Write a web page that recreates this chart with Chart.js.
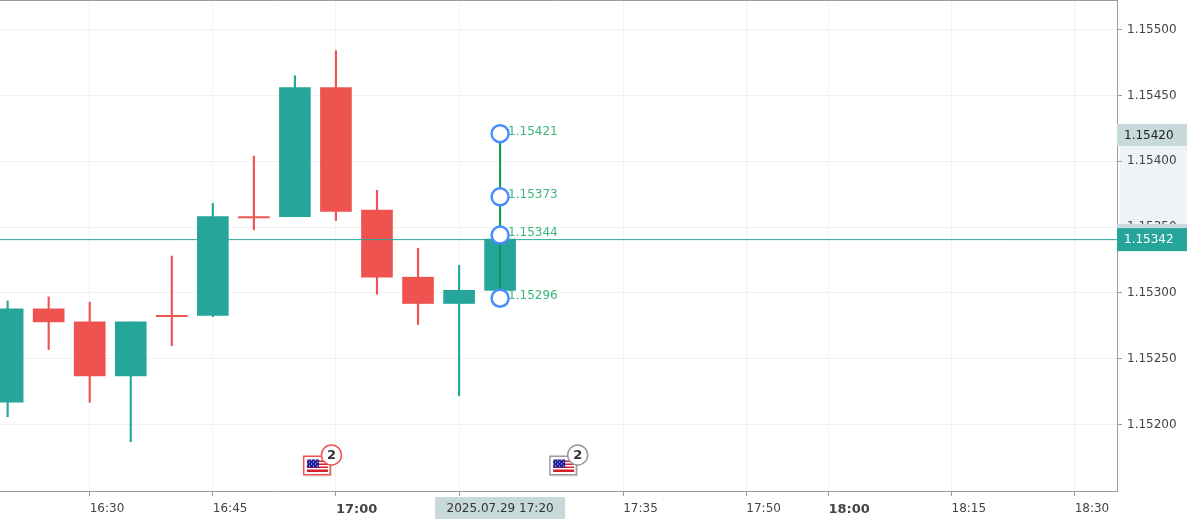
<!DOCTYPE html>
<html>
<head>
<meta charset="utf-8">
<style>
  html, body { margin: 0; padding: 0; background: #fff; }
  canvas { display: block; }
</style>
<script src="https://cdn.jsdelivr.net/npm/chart.js@4"></script>
</head>
<body>
<canvas id="candleChart" width="1187" height="522"></canvas>
<script>
const candleTimes = ['16:20', '16:25', '16:30', '16:35', '16:40', '16:45', '16:50', '16:55', '17:00', '17:05', '17:10', '17:15', '17:20'];
const openValues  = [1.15217, 1.15288, 1.15278, 1.15237, 1.15283, 1.15283, 1.15358, 1.15358, 1.15456, 1.15363, 1.15312, 1.15292, 1.15302];
const closeValues = [1.15288, 1.15278, 1.15237, 1.15278, 1.15282, 1.15358, 1.15357, 1.15456, 1.15362, 1.15312, 1.15292, 1.15302, 1.15341];
const highValues  = [1.15294, 1.15297, 1.15293, 1.15278, 1.15328, 1.15368, 1.15404, 1.15465, 1.15484, 1.15378, 1.15334, 1.15321, 1.15341];
const lowValues   = [1.15206, 1.15257, 1.15217, 1.15187, 1.15260, 1.15282, 1.15348, 1.15358, 1.15355, 1.15299, 1.15276, 1.15222, 1.15302];

const xTickLabels = ['16:30', '16:45', '17:00', '17:15', '17:35', '17:50', '18:00', '18:15', '18:30'];
const yTickValues = [1.152, 1.1525, 1.153, 1.1535, 1.154, 1.1545, 1.155];

const toolTime = '17:20';
const toolLevels = [1.15421, 1.15373, 1.15344, 1.15296];
const lastPrice = 1.153405;
const lastPriceLabel = '1.15342';
const toolBoxPrice = 1.15420;
const crosshairLabel = '2025.07.29 17:20';
const eventTimes = ['17:00', '17:30'];
const eventCounts = ['2', '2'];
const eventColors = ['#ef5350', '#9a9aa2'];

const UP = '#26a69a';
const DOWN = '#ef5350';
const PALE = '#c8d9dc';
const FONT = '"DejaVu Sans", sans-serif';

function toMinutes(t) {
    const parts = t.split(':');
    return Number(parts[0]) * 60 + Number(parts[1]);
}
function toLabel(m) {
    return String(Math.floor(m / 60)).padStart(2, '0') + ':' + String(m % 60).padStart(2, '0');
}

const candleColors = openValues.map((o, i) => closeValues[i] >= o ? UP : DOWN);
const xMin = 979.07;
const xMax = 1115.16;

function drawFlag(ctx, x, y, color) {
    ctx.fillStyle = 'rgba(0,0,0,0.12)';
    ctx.fillRect(x + 1, y + 1, 28, 20);
    ctx.fillStyle = '#fff';
    ctx.fillRect(x, y, 28, 20);
    ctx.strokeStyle = color;
    ctx.lineWidth = 1.5;
    ctx.strokeRect(x + 0.75, y + 0.75, 26.5, 18.5);
    ctx.fillStyle = '#d3202a';
    for (let i = 0; i < 4; i++) ctx.fillRect(x + 4, y + 5 + i * 3, 21, 1.5);
    ctx.fillRect(x + 4, y + 15.5, 21, 1);
    ctx.fillStyle = '#1a1a9c';
    ctx.fillRect(x + 4, y + 4, 12, 8);
    ctx.fillStyle = '#fff';
    for (let r = 0; r < 4; r++) {
        for (let c = 0; c < 6; c++) {
            if ((r + c) % 2 === 0) ctx.fillRect(x + 4 + c * 2, y + 4 + r * 2, 1, 1);
        }
    }
}

const overlays = {
    id: 'overlays',
    beforeDraw(chart) {
        const { ctx, scales } = chart;
        const top = scales.y.getPixelForValue(toolBoxPrice);
        const bottom = scales.y.getPixelForValue(toolLevels[2]);
        ctx.save();
        ctx.fillStyle = '#eef3f6';
        ctx.fillRect(chart.chartArea.right + 3, top, 70, bottom - top);
        ctx.restore();
    },
    beforeDatasetsDraw(chart) {
        const { ctx, scales, chartArea } = chart;
        const x = scales.x.getPixelForValue(toMinutes(toolTime));
        ctx.save();
        ctx.strokeStyle = '#9c9c9c';
        ctx.lineWidth = 1;
        ctx.beginPath();
        ctx.moveTo(0, 0.5);
        ctx.lineTo(chartArea.right, 0.5);
        ctx.stroke();
        ctx.fillStyle = '#3cb47c';
        ctx.font = '12px ' + FONT;
        ctx.textAlign = 'left';
        ctx.textBaseline = 'middle';
        toolLevels.forEach(v => {
            ctx.fillText(v.toFixed(5), x + 8, scales.y.getPixelForValue(v) - 2);
        });
        ctx.restore();
    },
    afterDraw(chart) {
        const { ctx, scales, chartArea } = chart;
        const right = chartArea.right;
        const yBox = (v, text, bg, fg, h) => {
            const py = scales.y.getPixelForValue(v);
            ctx.fillStyle = bg;
            ctx.fillRect(right, py - h / 2, 70, h);
            ctx.fillStyle = fg;
            ctx.fillText(text, right + 7, py + 0.5);
        };
        ctx.save();
        ctx.font = '12px ' + FONT;
        ctx.textAlign = 'left';
        ctx.textBaseline = 'middle';
        yBox(toolBoxPrice, toolBoxPrice.toFixed(5), PALE, '#222', 22);
        yBox(toolLevels[2], toolLevels[2].toFixed(5), PALE, '#222', 22);
        yBox(lastPrice, lastPriceLabel, UP, '#fff', 23);

        const cx = scales.x.getPixelForValue(toMinutes(toolTime));
        ctx.fillStyle = PALE;
        ctx.fillRect(cx - 65, chartArea.bottom + 6, 130, 22);
        ctx.fillStyle = '#333';
        ctx.textAlign = 'center';
        ctx.fillText(crosshairLabel, cx, chartArea.bottom + 17.5);

        eventTimes.forEach((t, i) => {
            const ex = scales.x.getPixelForValue(toMinutes(t));
            const flagX = ex - 33;
            drawFlag(ctx, flagX, 455.5, eventColors[i]);
            ctx.beginPath();
            ctx.arc(flagX + 28.5, 455, 10, 0, Math.PI * 2);
            ctx.fillStyle = '#fff';
            ctx.fill();
            ctx.strokeStyle = eventColors[i];
            ctx.lineWidth = 1.5;
            ctx.stroke();
            ctx.fillStyle = '#333';
            ctx.font = 'bold 13px ' + FONT;
            ctx.fillText(eventCounts[i], flagX + 28.5, 455.5);
            ctx.font = '12px ' + FONT;
        });
        ctx.restore();
    }
};

new Chart(document.getElementById('candleChart').getContext('2d'), {
    type: 'bar',
    data: {
        datasets: [
            {
                label: 'Wick',
                data: candleTimes.map((t, i) => ({ x: toMinutes(t), y: [lowValues[i], highValues[i]] })),
                backgroundColor: candleColors,
                barThickness: 1.5,
                grouped: false,
                order: 4
            },
            {
                label: 'Body',
                data: candleTimes.map((t, i) => ({ x: toMinutes(t), y: [openValues[i], closeValues[i]] })),
                backgroundColor: candleColors,
                barThickness: 31,
                grouped: false,
                order: 3
            },
            {
                type: 'line',
                label: 'Last price',
                data: [{ x: xMin, y: lastPrice }, { x: xMax, y: lastPrice }],
                borderColor: UP,
                borderWidth: 1,
                pointRadius: 0,
                order: 2
            },
            {
                type: 'line',
                label: 'Levels',
                data: toolLevels.map(v => ({ x: toMinutes(toolTime), y: v })),
                borderColor: '#089950',
                borderWidth: 2,
                pointRadius: 8.5,
                pointBorderWidth: 2.5,
                pointBorderColor: '#4a8dff',
                pointBackgroundColor: '#fff',
                clip: false,
                order: 1
            }
        ]
    },
    options: {
        responsive: false,
        animation: false,
        layout: { padding: 0, autoPadding: false },
        plugins: {
            legend: { display: false },
            tooltip: { enabled: false }
        },
        scales: {
            x: {
                type: 'linear',
                min: xMin,
                max: xMax,
                offset: false,
                afterBuildTicks(scale) {
                    scale.ticks = xTickLabels.map(t => ({ value: toMinutes(t) }));
                },
                afterFit(scale) {
                    scale.height = 31;
                    scale.paddingLeft = 0;
                    scale.paddingRight = 0;
                },
                grid: { offset: false, color: '#f1f2f4', tickColor: '#9c9c9c', tickLength: 5 },
                border: { color: '#9c9c9c' },
                ticks: {
                    autoSkip: false,
                    maxRotation: 0,
                    align: 'start',
                    padding: 6,
                    color: '#444',
                    font(c) {
                        const isHour = c.tick && c.tick.value % 60 === 0;
                        return { family: FONT, size: isHour ? 13 : 12, weight: isHour ? 'bold' : 'normal' };
                    },
                    callback(v) { return toLabel(v); }
                }
            },
            y: {
                position: 'right',
                min: 1.151496,
                max: 1.155225,
                afterBuildTicks(scale) {
                    scale.ticks = yTickValues.map(v => ({ value: v }));
                },
                afterFit(scale) {
                    scale.width = 70;
                    scale.paddingTop = 0;
                    scale.paddingBottom = 0;
                },
                grid: { color: '#f1f2f4', tickColor: '#9c9c9c', tickLength: 5 },
                border: { color: '#9c9c9c' },
                ticks: {
                    autoSkip: false,
                    padding: 5,
                    color: '#444',
                    font: { family: FONT, size: 12 },
                    callback(v) { return v.toFixed(5); }
                }
            }
        }
    },
    plugins: [overlays]
});
</script>
</body>
</html>
